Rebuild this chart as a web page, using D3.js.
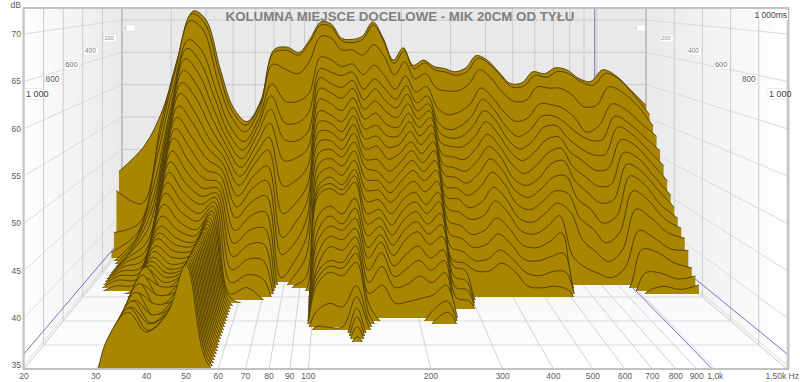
<!DOCTYPE html>
<html lang="pl">
<head>
<meta charset="UTF-8">
<title>Kolumna miejsce docelowe</title>
<script src="https://d3js.org/d3.v7.min.js"></script>
<style>
  body { margin: 0; background: #fff; }
  svg { display: block; font-family: "Liberation Sans", Arial, sans-serif; }
  .tick { font-size: 8.5px; fill: #5c5c5c; }
</style>
</head>
<body>
<svg id="chart" width="800" height="382"></svg>
<script>
// frequency of each column in the slices (Hz)
const freqs = [19.5,24,28,32,36,40,45,50,56,63,70,78,86,94,103,112,122,133,145,158,172,187,203,220,240,262,285,310,340,370,405,445,490,540,590,650,710,780,860,950,1050,1170,1320,1500];

// level in dB per slice; back slice (0 ms) first
const s0000 = [46.6,50.5,56.2,64.8,71.4,70,62.3,56.5,54.3,57.7,65.4,65.8,65,67,69.7,69.4,67.2,67,67.5,69.7,67.2,63.8,65.7,63,63.8,62.8,62.5,62,62.6,64.5,63.8,62,60.2,60.3,62,61.7,62.6,62.3,61,60.5,62.3,61.4,59.2,56.8];
const s0025 = [44,42,54.2,64,71,69.6,62,56.2,54,57.4,65,65.4,64.7,66.6,69.3,69,66.9,66.6,67.1,69.3,66.8,63.4,65.3,62.6,63.5,62.4,62.1,61.6,62.2,64.2,63.4,61.6,59.8,60,61.6,61.3,62.2,61.8,60.6,60.1,61.9,61,58.6,55.6];
const s0050 = [38,39.5,52,62.6,70,68.6,61,55.6,53.2,56.6,63.4,62.6,62,63.8,67.6,67.4,65.6,65.6,64.8,66.4,64.6,61.8,63.8,61.2,62,59.8,59.4,59.4,60.4,62.6,61.4,59.2,57.8,58,60,59.8,59.8,58.8,57,57.2,60,59.2,57.2,54.1];
const s0075 = [35.5,38.4,49.5,60.2,67.2,65.6,59.5,54.4,52,55.4,60.6,58,58,59.2,64.6,64.2,63.2,63.6,62,63.4,61.8,59.8,61.8,59.4,60.2,57,56,56.4,57.6,60,58.6,56.4,55,55.6,57.6,57.5,57,55.6,53.4,54.4,57.6,56.8,54.8,52.8];
const s0100 = [34,37.8,46.5,58,66,64,58.5,53.5,51,54.5,59,55,55,56.5,63,62.5,62,62.5,60,61.5,60,58.5,60.5,58,59,55,54,54.5,56,58.5,57,54.5,53,54,56,56,55,53.5,52.5,52.5,56,55,53,50.9];
const s0125 = [33.5,37.4,44.2,56.2,64.6,62.4,57.2,52.8,50,53.4,57.2,52.8,52.6,54,61.8,61,60.4,61.4,58.6,60.2,58.4,57.4,59.4,57,58,53.8,53,53.2,54.8,57,55.6,52.8,51.4,52.6,54.6,54.8,53,51.6,50.6,50.6,54.6,53.6,51.4,49];
const s0150 = [33,37,42.4,54.4,63,60.8,56,52.2,49,52.2,55.4,50,50.4,51.8,60.4,59.8,59,60.4,57.4,58.6,57,56.2,58.2,56,57.2,52.6,52,52,53.4,55.6,54,51.4,50,51.2,53,53.4,51.2,50,48.6,48.8,53,52.2,49.8,47.1];
const s0175 = [33,36.8,40.8,52.8,61.4,59.2,54.8,51.6,48,51,53.6,46.6,47.4,49.4,59,58.4,57.4,59.2,56.2,57,55.4,55,57,55,56.4,51.2,50.8,50.4,52,54,52.4,49.8,48.4,49.6,51.4,52,49.4,48,46.6,46.8,51.4,50.6,48,45.3];
const s0200 = [33,36.6,39,51,60,57.5,53.5,51,47,50,52,43,44.5,47,57.5,57,56,58,55,55.5,54,54,56,54,55.5,50,49.5,49,50.5,52.5,51,48,47,48,50,50.5,47.6,46,44.5,45,50,49,46.5,43.9];
const s0225 = [33,36.4,38,49.6,58.4,56,52.4,50.4,45.8,48.6,50,40,42,45,56.2,56,54.8,57,53.8,54.2,52.6,53,54.8,53,54.6,48.8,48.4,47.6,49,51,49.4,46.6,45.6,46.8,48.4,48.6,45.4,44,42,43,48.6,47.4,44.6,42.7];
const s0250 = [33,36.2,37.2,48,57,54.4,51.2,49.8,44.6,47.2,48.2,38,39.6,43,55,55,53.8,56,52.6,53,51.2,52,53.6,52,53.6,47.4,47.2,46.2,47.4,49.4,47.8,45,44.2,45.4,46.8,46.4,43,41.6,39.6,41,46.8,45.6,43,41.6];
const s0275 = [33,36,36.6,46.4,55.6,53,50,49.2,43.4,45.6,46.4,35.2,37.4,40.8,53.8,54,52.8,55,51.4,51.4,49.8,51,52.6,51,52.6,46.2,46,44.8,45.6,47.6,46,43.4,42.8,44,45.4,44.2,40.4,38.8,37.4,39,44.6,43.4,41.4,40.6];
const s0300 = [33,35.8,36.2,45.2,54.5,51.5,49,48.5,42,44,44.5,34,35.8,38.5,52.5,53,52,54,50.5,50,48.5,50,51.5,50,51.5,45,44.5,43.5,44,46,44.5,42,41.5,42.5,44,38.5,37,36.2,35.6,37,42,41,39.5,39.3];
const s0325 = [33,35.6,35.8,44,53,50.2,48,48,40.6,42.4,42.6,33,34.8,36,51.2,52,51,53,49.2,49,47.4,49,50.4,49,50.4,43.6,43,41.8,42.4,44,42.6,40.4,40,40.8,42,34.3,34.2,34,34,34.4,39.8,39.4,38,37.3];
const s0350 = [33,35.2,35.5,43,51.8,49,47.2,47.6,39.2,40.8,40.8,33,34,34.6,50,51,50,52,48,48,46.4,48,49.2,47.8,49.2,42.2,41.6,40.4,40.8,42.2,40.8,38.8,38.6,39.2,39.6,33.5,33.5,33.5,33.5,33.5,37,37,36.2,36.6];
const s0375 = [33,34.2,35.2,42.2,50.6,48,46.4,47.3,37.8,39.2,39,33,33,33,48.8,50,49,51,46.8,47,45.2,47,48,46.4,48,40.8,40.2,39,39.2,40.4,39.2,37.4,37,37.6,37.4,33,33,33,33,33,35,35.6,35.2,35.8];
const s0400 = [33,33.5,35,41.6,49.5,47,45.5,47,36.5,37.5,37,33,33,33,48.4,49.4,48.6,50.4,45.5,46,44,46,47,45.5,47,39.5,39,38,38,39,38,36,35.8,36,35.5,33,33,33,33,33,33.5,33.8,33.8,33.8];
const s0425 = [33,33,34.7,41,48.4,46,44.8,46.7,35.4,36.2,34.8,33,33,33,48,49,48.2,49.8,44.4,45.2,43,45,46,44.4,45.8,39,38.4,34.2,34,34.2,34,34,34,33.8,33.6,33];
const s0450 = [33,33,34.4,40.6,47.2,45,44,46.4,35.5,34.4,34,33,33,33,45.6,47,46,48,43.2,44.4,42,44,45,43.4,44.6,38,37.4,33.5,33,33];
const s0475 = [33,33,34.2,40.2,46,44.2,43.5,46.2,35.5,33.5,33,33,33,33,44,46,45,47,42,43.6,41,43,44,42.4,43.4,37,36.6,33,33];
const s0500 = [33,33,33.6,40,45,43.5,43,46,35.5,33,33,33,33,33,43,45,44.5,46,41,43,40,41.5,42.5,41,42,36,35.6,33];
const s0525 = [33,33,33.6,39.6,44.4,43,42.8,45.9,35.5,33,33,33,33,33,41.6,44,43.6,45,39.8,42,39,40,41,39.8,41,34.2,33.8,33];
const s0550 = [33,33,33.6,39.2,44,42.5,42.5,45.8,35.5,33,33,33,33,33,40.4,43,42.6,44.2,38.6,40.6,38,38.4,39.4,38.6,39.8,33.5,33];
const s0575 = [33,33,33.6,38.8,43.4,42,42.2,45.7,35.5,33,33,33,33,33,40,41.6,41.4,43.4,37.6,38.6,36.4,36.6,37,37.4,38.6,33];
const s0600 = [33,33,33.6,38.5,43,41.5,42,45.7,35.5,33,33,33,33,33,39.6,41.2,41,42.8,36.5,34.4,34.2,34.2,34.3,36,37,33];
const s0625 = [33,33,33.6,38.3,42.6,41.2,41.8,45.6,35.5,33,33,33,33,33,39.2,40.8,40.4,42,35.6,33.5,33,33,33,35,36,33];
const s0650 = [33,33,33.6,38.2,42.4,41,41.7,45.6,35.5,33,33,33,33,33,36.4,37.4,37,39.5,35,33,33,33,33,33.8,34,33];
const s0675 = [33,33,33.5,38,42.2,40.8,41.6,45.6,35.5,33,33,33,33,33,35,34.9,35,38.5,34.7,33];
const s0700 = [33,33,33,38,42,40.5,41.5,45.6,35.5,33,33,33,33,33,33.5,33.5,33.5,37.5,33.5,33];
const s0725 = [33,33,33,38.4,42.6,40,41.6,45.6,35.5,33,33,33,33,33,33,33,33,36.8,33,33];
const s0750 = [33,33,33,38,41.6,40.6,41,45.6,35.5,33,33,33,33,33,33,33,33,36,33,33];
const s0775 = [33,33,33,38.2,42.2,39.6,41.4,45.6,35.5,33,33,33,33,33,33,33,33,35.2,33,33];
const s0800 = [33,33,32,38,41.4,40.2,40.8,45.6,35.5,33,33,33,33,33,33,33,33,34,33,33];
const s0825 = [33,33,32,37.8,41.8,39.2,41,45.6,35.5,33];
const s0850 = [33,33,32,38,41,39.8,40.4,45.6,35.5,33];
const s0875 = [33,33,32,37.6,41.4,38.8,40.8,45.6,35.5,33];
const s0900 = [33,33,32,37.8,40.8,39.2,40.2,45.6,35.5,33];
const s0925 = [33,33,31,37.6,41,38.6,40.6,45.6,35.5,33];
const s0950 = [33,33,31,37.8,40.6,38.8,40.3,45.6,35.5,33];
const s0975 = [33,33,31,37.6,40.8,38.4,40.5,45.6,35.5,33];
const s1000 = [33,33,30.5,37.7,40.6,38.5,40.5,45.6,35.5,33];

const slices = [s0000,s0025,s0050,s0075,s0100,s0125,s0150,s0175,s0200,s0225,s0250,s0275,s0300,s0325,s0350,s0375,s0400,s0425,s0450,s0475,s0500,s0525,s0550,s0575,s0600,s0625,s0650,s0675,s0700,s0725,s0750,s0775,s0800,s0825,s0850,s0875,s0900,s0925,s0950,s0975,s1000];
const sliceTimes = slices.map((s, i) => i * 25);

const dbTicks = [35,40,45,50,55,60,65,70];
const timeTicks = [0,200,400,600,800,1000];
const timeLabels = ["0","200","400","600","800","1 000"];
const freqTicks = [30,40,50,60,70,80,90,100,200,300,400,500,600,700,800,900,1000];
const freqLabels = ["30","40","50","60","70","80","90","100","200","300","400","500","600","700","800","900","1,0k"];
const cursorHz = 983;
const cursorDb = 36.2;
const floorDb = 34.6;
const title = "KOLUMNA MIEJSCE DOCELOWE - MIK 20CM OD TYŁU";

// the box: front plane is 1000 ms, back plane is 0 ms
const xFront = d3.scaleLog().domain([20,1500]).range([24,787]);
const xBack = d3.scaleLog().domain([20,1500]).range([122,646]);
const yFront = d3.scaleLinear().domain([floorDb,70]).range([369,34]);
const yBack = d3.scaleLinear().domain([floorDb,70]).range([249,20]);
const depth = d3.scaleLinear().domain([0,1000]).range([1,0]);

const px = (f, t) => d3.interpolateNumber(xFront(f), xBack(f))(depth(t));
const py = (db, t) => d3.interpolateNumber(yFront(db), yBack(db))(depth(t));

const svg = d3.select("#chart");
const defs = svg.append("defs");

const wallL = defs.append("linearGradient").attr("id","wallL");
wallL.append("stop").attr("offset",0).attr("stop-color","#ffffff");
wallL.append("stop").attr("offset",1).attr("stop-color","#e9e9e9");
const wallR = defs.append("linearGradient").attr("id","wallR");
wallR.append("stop").attr("offset",0).attr("stop-color","#e9e9e9");
wallR.append("stop").attr("offset",1).attr("stop-color","#ffffff");
const floorG = defs.append("linearGradient").attr("id","floorG").attr("x1",0).attr("x2",0).attr("y1",0).attr("y2",1);
floorG.append("stop").attr("offset",0).attr("stop-color","#f4f4f4");
floorG.append("stop").attr("offset",1).attr("stop-color","#ffffff");

defs.append("clipPath").attr("id","plot").append("rect")
  .attr("x",24).attr("y",8).attr("width",765).attr("height",361);

const box = svg.append("g").attr("clip-path","url(#plot)");
const poly = pts => "M" + pts.join("L") + "Z";
const [fa, fb] = xFront.domain();

box.append("rect").attr("x",0).attr("y",0).attr("width",800).attr("height",382).attr("fill","#e9e9e9");
box.append("path").attr("fill","url(#wallL)")
  .attr("d", poly([[px(fa,1000),0],[px(fa,0),0],[px(fa,0),py(floorDb,0)],[px(fa,1000),py(floorDb,1000)]]));
box.append("path").attr("fill","url(#wallR)")
  .attr("d", poly([[px(fb,0),0],[px(fb,1000),0],[px(fb,1000),py(floorDb,1000)],[px(fb,0),py(floorDb,0)]]));
box.append("path").attr("fill","url(#floorG)")
  .attr("d", poly([[px(fa,0),py(floorDb,0)],[px(fb,0),py(floorDb,0)],[px(fb,1000),py(floorDb,1000)],[px(fa,1000),py(floorDb,1000)]]));

// grid
const grid = box.append("g").attr("fill","none").attr("stroke","#cbcbcb").attr("stroke-width",1);
const seg = (a, b, col) => grid.append("path").attr("d", "M" + a + "L" + b).attr("stroke", col || null);
dbTicks.forEach(db => {
  seg([px(fa,1000),py(db,1000)], [px(fa,0),py(db,0)], "#dadada");
  seg([px(fa,0),py(db,0)], [px(fb,0),py(db,0)]);
  seg([px(fb,0),py(db,0)], [px(fb,1000),py(db,1000)], "#dadada");
});
timeTicks.forEach(t => {
  seg([px(fa,t),0], [px(fa,t),py(floorDb,t)]);
  seg([px(fb,t),0], [px(fb,t),py(floorDb,t)]);
  seg([px(fa,t),py(floorDb,t)], [px(fb,t),py(floorDb,t)], "#dcdcdc");
});
freqTicks.forEach(f => {
  seg([px(f,0),0], [px(f,0),py(floorDb,0)]);
  seg([px(f,0),py(floorDb,0)], [px(f,1000),py(floorDb,1000)], "#d2d2d2");
});
seg([px(fa,0),py(floorDb,0)], [px(fa,1000),py(floorDb,1000)]);
seg([px(fb,0),py(floorDb,0)], [px(fb,1000),py(floorDb,1000)]);
seg([px(fa,0),0], [px(fa,0),py(floorDb,0)], "#a8a8a8");
seg([px(fb,0),0], [px(fb,0),py(floorDb,0)], "#a8a8a8");

// cursor lines
const cur = box.append("g").attr("fill","none").attr("stroke","#6f73c4").attr("stroke-width",1);
cur.append("path").attr("d", "M" + [px(fa,1000),py(cursorDb,1000)] + "L" + [px(fa,0),py(cursorDb,0)]);
cur.append("path").attr("d", "M" + [px(fb,1000),py(cursorDb,1000)] + "L" + [px(fb,0),py(cursorDb,0)]);
cur.append("path").attr("d", "M" + [px(cursorHz,1000),py(floorDb,1000)] + "L" + [px(cursorHz,0),py(floorDb,0)] + "L" + [px(cursorHz,0),0]);

// slices, back to front
const zipped = (s, t) => s.map((db, i) => ({ f: freqs[i], db, t }));
const area = d3.area().x(d => px(d.f, d.t)).y0(d => py(floorDb, d.t)).y1(d => py(d.db, d.t)).curve(d3.curveCatmullRom);
const line = d3.line().x(d => px(d.f, d.t)).y(d => py(d.db, d.t)).curve(d3.curveCatmullRom);

slices.forEach((s, i) => {
  const t = sliceTimes[i];
  const id = "slice" + i;
  defs.append("clipPath").attr("id", id).append("rect")
    .attr("x",0).attr("y",0).attr("width",800).attr("height",py(floorDb,t));
  const g = svg.append("g").attr("clip-path","url(#" + id + ")");
  const pts = zipped(s, t);
  g.append("path").attr("d", area(pts)).attr("fill","#a88600");
  g.append("path").attr("d", line(pts)).attr("fill","none").attr("stroke","#4c3b06").attr("stroke-width",0.9);
});

// frame
svg.append("rect").attr("x",23.5).attr("y",8).attr("width",765).attr("height",361)
  .attr("fill","none").attr("stroke","#c2c2c2").attr("stroke-width",2);

// title
svg.append("text").attr("x",400).attr("y",21).attr("text-anchor","middle")
  .attr("font-size",13.3).attr("font-weight","bold").attr("fill","#808080").text(title);

// axis labels
dbTicks.forEach(db => svg.append("text").attr("class","tick").attr("x",21).attr("y",py(db,1000)+3)
  .attr("text-anchor","end").text(db));
svg.append("text").attr("class","tick").attr("x",21).attr("y",7.5).attr("text-anchor","end").text("dB");
freqTicks.forEach((f, i) => svg.append("text").attr("class","tick").attr("x",px(f,1000)).attr("y",379)
  .attr("text-anchor","middle").text(freqLabels[i]));
svg.append("text").attr("class","tick").attr("x",xFront(20)).attr("y",379).attr("text-anchor","middle").text("20");
svg.append("text").attr("class","tick").attr("x",799).attr("y",379).attr("text-anchor","end").text("1,50k Hz");

// time labels in little boxes on both walls, smaller towards the back
const sizeOf = d3.scaleLinear().domain([0,1000]).range([5,9]);
const boxW = d3.scaleLinear().domain([0,1000]).range([12,18]);
const greyOf = d3.scaleLinear().domain([0,1000]).range(["#a0a0a0","#444444"]);
const labelY = d3.scalePow().exponent(1.15).domain([0,1000]).range([28,94]);
function timeBox(xEdge, t, label, side) {
  const fs = sizeOf(t), w = boxW(t), y = labelY(t);
  const x0 = side < 0 ? xEdge : xEdge - w;
  svg.append("rect").attr("x",x0).attr("y",y - fs * 0.6).attr("width",w).attr("height",fs * 1.2)
    .attr("fill","#fff").attr("stroke","#e2e2e2").attr("stroke-width",0.6);
  svg.append("text").attr("x",x0 + 1).attr("y",y + fs * 0.35)
    .attr("font-size",fs).attr("fill",greyOf(t)).text(label);
}
timeTicks.forEach((t, i) => {
  timeBox(px(fa,t) + 1, t, timeLabels[i], -1);
  timeBox(px(fb,t) - 1, t, timeLabels[i], 1);
});
svg.append("rect").attr("x",759).attr("y",10).attr("width",29).attr("height",10).attr("fill","#fff");
svg.append("text").attr("x",787).attr("y",18).attr("text-anchor","end").attr("font-size",8.5).attr("fill","#444").text("1 000ms");
</script>
</body>
</html>
